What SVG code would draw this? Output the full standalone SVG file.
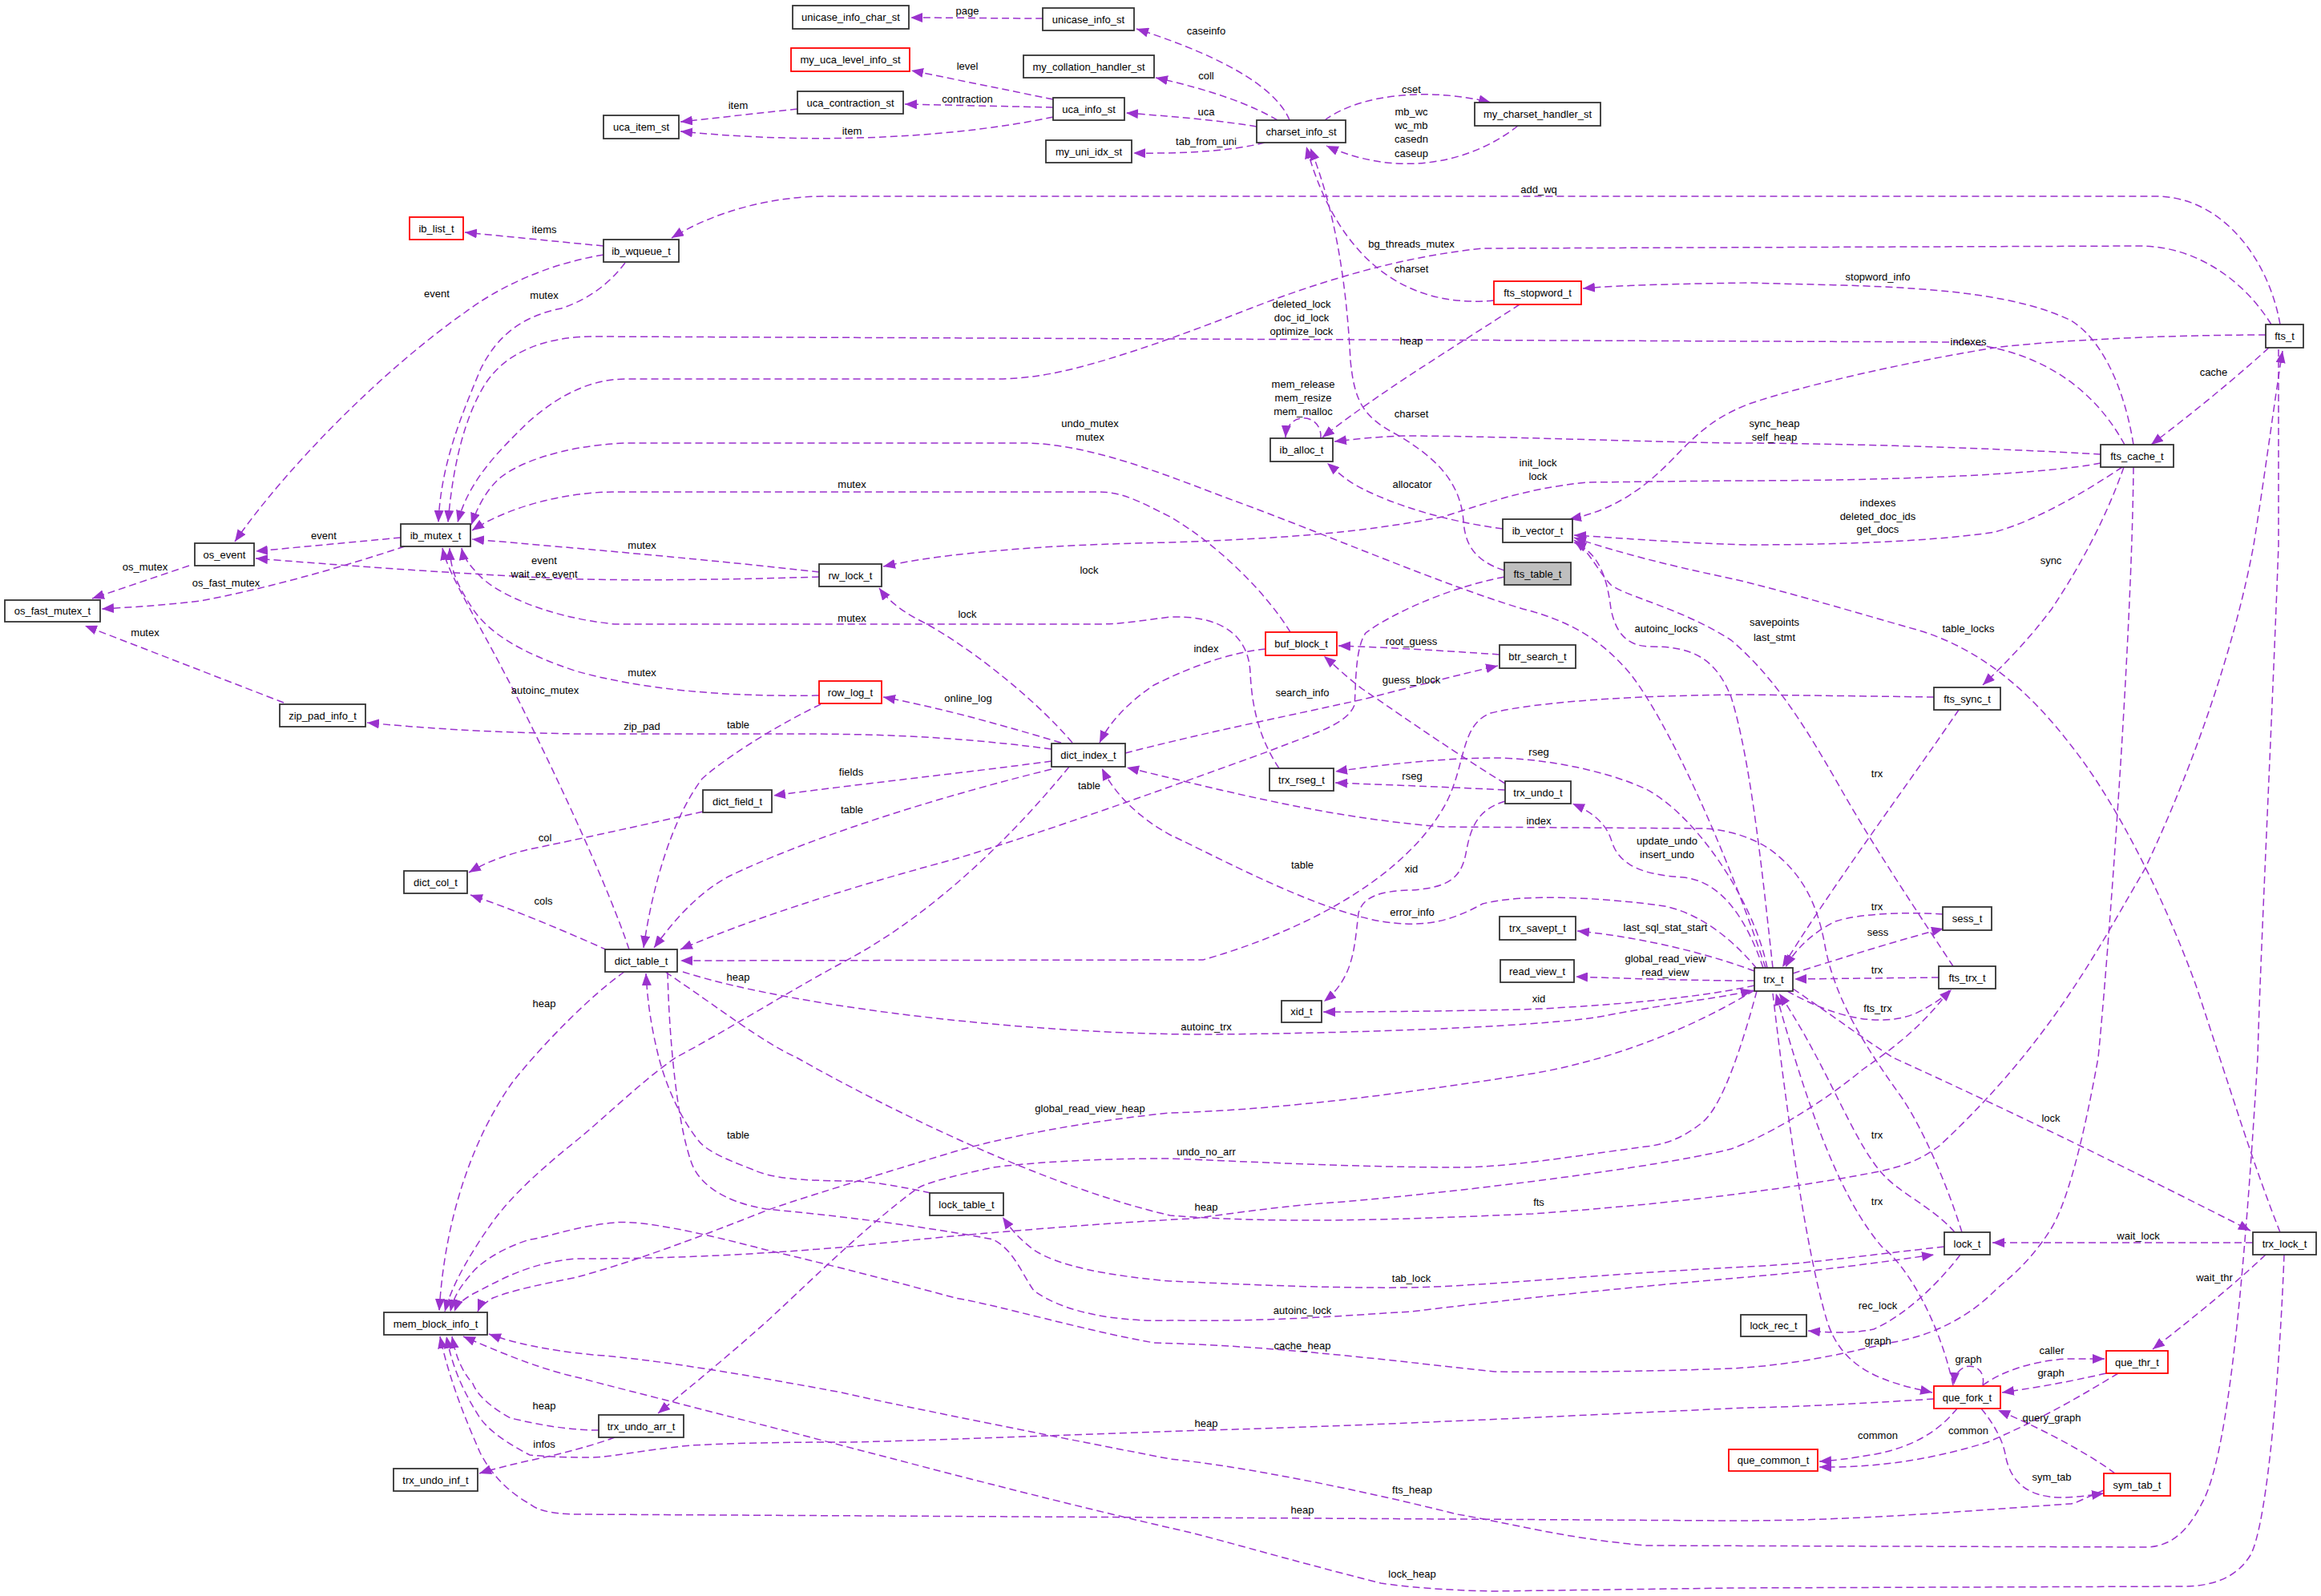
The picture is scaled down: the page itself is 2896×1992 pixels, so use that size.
<svg xmlns="http://www.w3.org/2000/svg" width="2896" height="1992" viewBox="0 0 2896 1992">
<style>
text{font-family:"Liberation Sans",Arial,sans-serif;font-size:13px;fill:#000}
.n rect{fill:#fff;stroke:#333;stroke-width:1.8}
.n.r rect{stroke:#ff0000}
.n.g rect{fill:#bfbfbf}
.n text{text-anchor:middle}
.e path{fill:none;stroke:#9a32cd;stroke-width:1.5;stroke-dasharray:9,5;marker-end:url(#a)}
.l text{text-anchor:middle}
</style>
<defs>
<marker id="a" markerUnits="userSpaceOnUse" markerWidth="16" markerHeight="12" refX="15" refY="6" orient="auto"><path d="M0,0 L15,6 L0,12 z" fill="#9a32cd"/></marker>
</defs>
<rect width="2896" height="1992" fill="#fff"/>
<g id="edges" class="e">
<path d="M1301,23 C1250,23 1190,22 1136,22"/>
<path d="M1609,150 C1595,115 1540,75 1418,36"/>
<path d="M1594,150 C1560,130 1510,112 1442,97"/>
<path d="M1568,158 C1520,150 1460,145 1405,141"/>
<path d="M1578,178 C1540,188 1480,192 1414,191"/>
<path d="M1314,124 L1137,88"/>
<path d="M1314,134 L1129,130"/>
<path d="M995,136 L849,152"/>
<path d="M1314,146 C1200,170 1030,182 849,164"/>
<path d="M1653,150 C1700,115 1790,110 1860,128"/>
<path d="M1894,157 C1840,200 1750,225 1655,182"/>
<path d="M1864,375 C1760,385 1670,330 1630,183"/>
<path d="M1877,712 C1840,700 1828,680 1826,650 C1822,600 1790,570 1742,542 C1700,520 1690,500 1685,450 C1680,350 1665,260 1635,185"/>
<path d="M753,307 L580,290"/>
<path d="M753,318 C680,330 620,360 580,390 C480,460 360,580 293,676"/>
<path d="M780,328 C765,348 740,372 700,385 C650,395 620,420 600,460 C575,520 550,580 547,652"/>
<path d="M2845,405 C2830,320 2770,245 2690,245 L1030,245 C960,245 890,265 838,297"/>
<path d="M2834,405 C2800,350 2740,307 2670,307 L1850,310 C1750,320 1650,350 1560,385 C1470,420 1400,445 1340,460 C1300,470 1270,473 1239,473 L781,473 C730,473 690,500 660,526 C620,565 585,600 571,652"/>
<path d="M2651,555 C2610,480 2540,435 2440,427 L740,420 C680,420 630,440 605,480 C580,520 565,580 559,652"/>
<path d="M2203,1208 C2150,1050 2080,900 2035,842 C2000,800 1960,775 1900,760 C1800,730 1650,665 1540,625 C1460,595 1360,553 1277,553 L781,553 C700,556 640,580 620,600 C605,615 595,635 588,655"/>
<path d="M1610,789 C1580,740 1520,680 1460,645 C1420,625 1400,614 1371,614 L767,614 C700,614 630,635 589,662"/>
<path d="M1022,714 C900,700 720,684 589,673"/>
<path d="M1022,720 C900,724 760,725 700,722 C550,715 420,705 319,697"/>
<path d="M1022,868 C900,870 800,860 720,838 C650,815 610,790 590,760 C570,730 562,710 561,684"/>
<path d="M1596,959 C1570,920 1562,880 1560,840 C1558,790 1520,768 1460,770 C1420,775 1400,779 1371,779 L767,779 C680,770 620,740 600,720 C585,705 578,695 576,684"/>
<path d="M785,1185 C760,1110 700,980 650,880 C600,780 560,720 552,684"/>
<path d="M500,671 L319,688"/>
<path d="M505,682 C420,710 330,735 250,750 C200,756 160,758 127,760"/>
<path d="M236,706 L115,747"/>
<path d="M354,877 L106,781"/>
<path d="M1312,935 C1200,920 1100,916 1000,916 L720,916 C600,914 520,908 458,902"/>
<path d="M1324,927 C1250,905 1180,885 1102,870"/>
<path d="M1338,927 C1290,870 1200,800 1145,773 C1120,760 1105,745 1097,734"/>
<path d="M1312,950 C1200,965 1060,980 965,993"/>
<path d="M877,1013 C800,1030 720,1048 660,1060 C620,1070 600,1080 585,1089"/>
<path d="M1312,960 C1150,1000 1000,1050 909,1094 C870,1115 840,1150 816,1183"/>
<path d="M1024,879 C960,910 900,950 876,972 C840,1020 815,1100 803,1183"/>
<path d="M758,1186 C700,1160 640,1135 587,1117"/>
<path d="M779,1213 C740,1240 680,1300 640,1350 C590,1420 555,1520 548,1636"/>
<path d="M2413,870 L2180,867 C2000,868 1900,880 1860,890 C1820,905 1830,960 1800,1010 C1740,1110 1600,1170 1501,1198 L849,1199"/>
<path d="M852,1213 C1000,1260 1300,1291 1500,1291 C1700,1290 1950,1280 2006,1267 C2100,1250 2150,1245 2187,1236"/>
<path d="M2189,1230 C2100,1250 1950,1258 1900,1260 C1800,1262 1720,1263 1651,1263"/>
<path d="M2189,1224 C2120,1224 2050,1222 1966,1219"/>
<path d="M2189,1212 C2130,1190 2050,1170 1968,1162"/>
<path d="M2192,1209 C2160,1170 2120,1140 2077,1131 C2000,1120 1900,1115 1850,1128 C1810,1150 1780,1156 1740,1152 C1660,1146 1520,1070 1460,1042 C1420,1020 1390,990 1375,959"/>
<path d="M2448,1538 C2430,1480 2400,1410 2373,1370 C2330,1310 2290,1250 2277,1180 C2268,1130 2250,1090 2207,1059 C2180,1042 2150,1035 2124,1034 L1800,1032 C1650,1020 1520,985 1406,958"/>
<path d="M1579,810 C1530,815 1480,835 1440,855 C1410,875 1385,900 1372,927"/>
<path d="M1404,940 C1500,915 1600,895 1700,873 C1760,858 1820,842 1869,831"/>
<path d="M1871,817 C1800,812 1730,808 1670,806"/>
<path d="M1878,978 C1800,930 1730,880 1700,860 C1680,845 1665,830 1652,819"/>
<path d="M1877,720 C1800,735 1730,770 1704,790 C1690,810 1692,860 1690,880 C1680,905 1640,915 1582,938 C1480,975 1300,1040 1192,1072 C1050,1110 930,1150 849,1185"/>
<path d="M1878,986 C1800,982 1740,980 1666,977"/>
<path d="M2205,1208 C2190,1130 2120,1020 2054,985 C2000,960 1920,946 1865,946 C1800,946 1720,955 1666,963"/>
<path d="M1878,1000 C1845,1010 1836,1030 1830,1060 C1825,1090 1815,1108 1760,1111 C1720,1112 1700,1120 1695,1140 C1690,1180 1690,1220 1652,1250"/>
<path d="M2200,1208 C2180,1150 2150,1100 2100,1095 C2050,1092 2020,1080 2011,1050 C2005,1030 1990,1015 1962,1003"/>
<path d="M2212,1208 C2200,1100 2185,950 2160,870 C2140,820 2110,807 2060,807 C2030,807 2016,790 2010,760 C2005,720 1995,690 1964,677"/>
<path d="M2437,1206 C2400,1150 2340,1060 2300,990 C2260,920 2220,850 2160,799 C2100,760 2030,745 2010,730 C1995,715 1985,690 1964,674"/>
<path d="M2845,1538 C2810,1450 2780,1350 2740,1230 C2700,1120 2640,1000 2583,929 C2530,860 2470,810 2395,787 C2300,760 2200,730 2150,720 C2080,705 2020,690 1964,671"/>
<path d="M2650,583 C2630,640 2600,700 2560,760 C2530,800 2500,830 2474,855"/>
<path d="M2444,886 C2380,980 2290,1100 2224,1207"/>
<path d="M2424,1141 C2380,1138 2320,1140 2290,1150 C2260,1165 2240,1185 2228,1207"/>
<path d="M2237,1215 C2300,1195 2380,1170 2425,1159"/>
<path d="M2419,1220 L2239,1222"/>
<path d="M2230,1237 C2280,1265 2340,1285 2390,1265 C2410,1255 2425,1245 2435,1235"/>
<path d="M2831,434 C2780,480 2730,520 2684,555"/>
<path d="M2827,418 C2700,418 2560,425 2489,434 C2400,448 2250,480 2180,505 C2130,525 2110,550 2080,580 C2040,620 2000,640 1958,648"/>
<path d="M2648,583 C2600,615 2540,650 2489,664 C2400,678 2250,680 2180,680 C2100,678 2030,672 1964,668"/>
<path d="M2621,567 C2500,560 2300,553 2160,553 C2000,550 1850,544 1751,544 C1720,545 1690,548 1665,551"/>
<path d="M2621,578 C2560,590 2400,600 2160,600 L1980,602 C1900,610 1850,630 1800,645 C1700,665 1600,672 1460,677 C1300,680 1180,690 1102,707"/>
<path d="M2662,555 C2650,480 2620,420 2582,399 C2520,370 2430,360 2300,356 L2180,353 C2100,354 2020,356 1975,360"/>
<path d="M1896,380 C1820,430 1720,490 1650,546"/>
<path d="M1648,547 C1650,515 1606,512 1604,546"/>
<path d="M1875,660 C1800,650 1740,630 1700,610 C1680,600 1670,590 1656,578"/>
<path d="M2237,1234 C2290,1270 2330,1300 2362,1320 C2450,1360 2600,1430 2808,1536"/>
<path d="M2439,1538 C2410,1505 2370,1490 2347,1463 C2310,1420 2280,1330 2220,1240"/>
<path d="M2437,1729 C2420,1650 2380,1580 2348,1556 C2300,1500 2260,1400 2216,1240"/>
<path d="M2212,1240 C2225,1350 2250,1550 2280,1650 C2300,1710 2350,1725 2411,1738"/>
<path d="M2850,1566 C2845,1700 2830,1900 2808,1941 C2790,1970 2760,1980 2723,1980 L2160,1982 L1865,1986 C1800,1985 1750,1980 1723,1976 C1600,1945 1500,1915 1460,1907 C1300,1870 1150,1830 1050,1804 C900,1765 800,1740 720,1719 C680,1710 640,1695 578,1668"/>
<path d="M2843,436 L2843,680 C2835,900 2820,1200 2817,1320 C2800,1600 2780,1820 2747,1877 C2730,1910 2710,1931 2676,1931 L2054,1929 C1950,1920 1880,1900 1818,1890 C1700,1860 1550,1830 1460,1821 C1300,1790 1100,1750 1050,1738 C900,1710 800,1695 740,1691 C680,1685 640,1676 610,1665"/>
<path d="M830,1213 C900,1260 950,1300 994,1320 C1100,1380 1300,1480 1460,1517 C1600,1528 1750,1522 1912,1515 C2050,1505 2200,1490 2340,1463 C2380,1455 2400,1445 2420,1430 C2560,1300 2620,1180 2676,1085 C2740,950 2790,800 2812,680 C2825,600 2838,500 2848,438"/>
<path d="M2189,1236 C2100,1290 2000,1325 1912,1340 C1750,1365 1600,1385 1460,1389 C1350,1400 1250,1420 1192,1437 C1100,1465 1000,1495 956,1511 C870,1545 790,1575 720,1594 C680,1602 640,1610 615,1620 C605,1626 598,1632 596,1637"/>
<path d="M2192,1237 C2175,1300 2150,1380 2124,1401 C2100,1420 2080,1428 2054,1431 C1950,1445 1880,1457 1818,1457 C1700,1457 1560,1450 1460,1446 C1350,1446 1280,1452 1239,1457 C1180,1470 1160,1475 1145,1483 C1080,1530 1000,1610 956,1650 C900,1700 850,1740 821,1764"/>
<path d="M2662,583 C2660,800 2630,1200 2618,1320 C2600,1420 2580,1500 2559,1534 C2530,1580 2500,1600 2489,1611 C2450,1650 2400,1670 2357,1676 C2280,1695 2220,1705 2160,1708 C2050,1712 1950,1713 1865,1712 C1750,1700 1600,1680 1440,1676 C1350,1660 1250,1630 1192,1620 C1100,1595 1000,1570 956,1560 C880,1540 800,1522 767,1526 C720,1530 680,1545 661,1547 C620,1560 595,1580 588,1590 C575,1605 566,1618 562,1637"/>
<path d="M2432,1236 C2400,1280 2360,1310 2324,1335 C2270,1380 2200,1420 2160,1434 C2100,1450 1900,1480 1676,1500 C1600,1505 1550,1513 1487,1521 C1400,1525 1200,1540 1060,1556 C950,1565 850,1571 720,1571 C660,1575 620,1600 590,1615 C578,1622 570,1628 567,1637"/>
<path d="M1334,957 C1250,1060 1150,1150 1050,1202 C980,1240 900,1290 843,1320 C800,1350 760,1390 720,1423 C680,1455 640,1490 614,1526 C590,1560 565,1600 555,1637"/>
<path d="M2625,1860 C2600,1870 2590,1877 2582,1877 C2400,1890 2300,1898 2160,1898 L1460,1894 L720,1890 C690,1890 670,1885 661,1877 C630,1860 610,1835 599,1813 C580,1770 560,1720 549,1668"/>
<path d="M2413,1746 C2350,1750 2250,1756 2180,1757 C2000,1765 1700,1780 1505,1785 C1300,1792 1100,1800 1050,1800 C950,1800 900,1802 862,1804 C800,1810 760,1819 740,1819 C700,1819 680,1818 661,1816 C630,1800 610,1785 599,1770 C580,1740 565,1710 557,1668"/>
<path d="M747,1785 C700,1785 660,1775 637,1770 C610,1755 595,1740 590,1727 C575,1710 568,1690 564,1668"/>
<path d="M767,1794 C740,1804 700,1815 660,1823 C630,1830 610,1835 598,1839"/>
<path d="M833,1213 C835,1300 845,1400 862,1449 C870,1475 900,1500 956,1509 C1050,1518 1150,1530 1239,1547 C1265,1560 1275,1590 1290,1611 C1330,1640 1400,1650 1460,1648 C1600,1650 1700,1640 1761,1637 C1900,1620 2050,1605 2180,1594 C2280,1585 2350,1575 2413,1566"/>
<path d="M1161,1489 C1110,1478 1080,1474 1060,1474 C1000,1474 960,1470 940,1460 C900,1445 880,1435 871,1423 C845,1390 830,1350 822,1320 C812,1280 808,1250 806,1215"/>
<path d="M2426,1556 C2300,1570 2250,1578 2180,1581 C2000,1590 1850,1605 1761,1607 C1650,1608 1550,1603 1460,1599 C1380,1592 1320,1580 1290,1560 C1270,1545 1260,1532 1251,1519"/>
<path d="M2446,1566 C2420,1600 2380,1640 2338,1659 C2310,1665 2280,1663 2256,1661"/>
<path d="M2811,1551 L2486,1551"/>
<path d="M2827,1566 C2780,1610 2730,1650 2686,1684"/>
<path d="M2474,1729 C2500,1710 2540,1698 2580,1696 L2626,1696"/>
<path d="M2628,1714 C2580,1725 2540,1732 2498,1738"/>
<path d="M2474,1729 C2480,1700 2440,1695 2438,1728"/>
<path d="M2442,1758 C2420,1785 2390,1805 2340,1815 C2310,1820 2290,1823 2270,1824"/>
<path d="M2643,1714 C2600,1740 2550,1770 2480,1800 C2400,1825 2330,1832 2270,1831"/>
<path d="M2639,1839 C2600,1810 2540,1780 2493,1760"/>
<path d="M2472,1758 C2490,1780 2500,1800 2503,1820 C2510,1850 2530,1869 2573,1869 C2590,1869 2610,1866 2625,1864"/>
</g>
<g id="labels" class="l">
<text x="1207" y="18">page</text>
<text x="1505" y="43">caseinfo</text>
<text x="1505" y="99">coll</text>
<text x="1207" y="87">level</text>
<text x="1207" y="128">contraction</text>
<text x="921" y="136">item</text>
<text x="1505" y="144">uca</text>
<text x="1761" y="116">cset</text>
<text x="1761" y="144">mb_wc</text>
<text x="1761" y="161">wc_mb</text>
<text x="1761" y="178">casedn</text>
<text x="1761" y="196">caseup</text>
<text x="1063" y="168">item</text>
<text x="1505" y="181">tab_from_uni</text>
<text x="1920" y="241">add_wq</text>
<text x="679" y="291">items</text>
<text x="1761" y="309">bg_threads_mutex</text>
<text x="1761" y="340">charset</text>
<text x="2343" y="350">stopword_info</text>
<text x="545" y="371">event</text>
<text x="679" y="373">mutex</text>
<text x="1624" y="384">deleted_lock</text>
<text x="1624" y="401">doc_id_lock</text>
<text x="1624" y="418">optimize_lock</text>
<text x="1761" y="430">heap</text>
<text x="2456" y="431">indexes</text>
<text x="2762" y="469">cache</text>
<text x="1626" y="484">mem_release</text>
<text x="1626" y="501">mem_resize</text>
<text x="1626" y="518">mem_malloc</text>
<text x="1761" y="521">charset</text>
<text x="1360" y="533">undo_mutex</text>
<text x="1360" y="550">mutex</text>
<text x="2214" y="533">sync_heap</text>
<text x="2214" y="550">self_heap</text>
<text x="1919" y="582">init_lock</text>
<text x="1919" y="599">lock</text>
<text x="1762" y="609">allocator</text>
<text x="1063" y="609">mutex</text>
<text x="2343" y="632">indexes</text>
<text x="2343" y="649">deleted_doc_ids</text>
<text x="2343" y="665">get_docs</text>
<text x="404" y="673">event</text>
<text x="801" y="685">mutex</text>
<text x="2559" y="704">sync</text>
<text x="679" y="704">event</text>
<text x="679" y="721">wait_ex_event</text>
<text x="181" y="712">os_mutex</text>
<text x="1359" y="716">lock</text>
<text x="282" y="732">os_fast_mutex</text>
<text x="1063" y="776">mutex</text>
<text x="1207" y="771">lock</text>
<text x="2214" y="781">savepoints</text>
<text x="2214" y="800">last_stmt</text>
<text x="2079" y="789">autoinc_locks</text>
<text x="2456" y="789">table_locks</text>
<text x="181" y="794">mutex</text>
<text x="1761" y="805">root_guess</text>
<text x="1505" y="814">index</text>
<text x="1761" y="853">guess_block</text>
<text x="801" y="844">mutex</text>
<text x="680" y="866">autoinc_mutex</text>
<text x="1625" y="869">search_info</text>
<text x="1208" y="876">online_log</text>
<text x="921" y="909">table</text>
<text x="801" y="911">zip_pad</text>
<text x="1920" y="943">rseg</text>
<text x="1062" y="968">fields</text>
<text x="2342" y="970">trx</text>
<text x="1762" y="973">rseg</text>
<text x="1359" y="985">table</text>
<text x="1063" y="1015">table</text>
<text x="1920" y="1029">index</text>
<text x="680" y="1050">col</text>
<text x="2080" y="1054">update_undo</text>
<text x="2080" y="1071">insert_undo</text>
<text x="1625" y="1084">table</text>
<text x="1761" y="1089">xid</text>
<text x="678" y="1129">cols</text>
<text x="2342" y="1136">trx</text>
<text x="1762" y="1143">error_info</text>
<text x="2078" y="1162">last_sql_stat_start</text>
<text x="2343" y="1168">sess</text>
<text x="2078" y="1201">global_read_view</text>
<text x="2078" y="1218">read_view</text>
<text x="2342" y="1215">trx</text>
<text x="921" y="1224">heap</text>
<text x="1920" y="1251">xid</text>
<text x="679" y="1257">heap</text>
<text x="2343" y="1263">fts_trx</text>
<text x="1505" y="1286">autoinc_trx</text>
<text x="1360" y="1388">global_read_view_heap</text>
<text x="2559" y="1400">lock</text>
<text x="2342" y="1421">trx</text>
<text x="921" y="1421">table</text>
<text x="1505" y="1442">undo_no_arr</text>
<text x="1920" y="1505">fts</text>
<text x="1505" y="1511">heap</text>
<text x="2342" y="1504">trx</text>
<text x="2668" y="1547">wait_lock</text>
<text x="1761" y="1600">tab_lock</text>
<text x="2763" y="1599">wait_thr</text>
<text x="2343" y="1634">rec_lock</text>
<text x="1625" y="1640">autoinc_lock</text>
<text x="2343" y="1678">graph</text>
<text x="1625" y="1684">cache_heap</text>
<text x="2560" y="1690">caller</text>
<text x="2456" y="1701">graph</text>
<text x="2559" y="1718">graph</text>
<text x="679" y="1759">heap</text>
<text x="2560" y="1774">query_graph</text>
<text x="1505" y="1781">heap</text>
<text x="2456" y="1790">common</text>
<text x="2343" y="1796">common</text>
<text x="679" y="1807">infos</text>
<text x="2560" y="1848">sym_tab</text>
<text x="1762" y="1864">fts_heap</text>
<text x="1625" y="1889">heap</text>
<text x="1762" y="1969">lock_heap</text>
</g>
<g id="unicase_info_char_st" class="n"><rect x="989" y="7" width="145" height="29"/><text x="1061.5" y="26">unicase_info_char_st</text></g>
<g id="unicase_info_st" class="n"><rect x="1301" y="10" width="114" height="28"/><text x="1358" y="29">unicase_info_st</text></g>
<g id="my_uca_level_info_st" class="n r"><rect x="987" y="60" width="148" height="29"/><text x="1061" y="79">my_uca_level_info_st</text></g>
<g id="my_collation_handler_st" class="n"><rect x="1277" y="69" width="163" height="28"/><text x="1358.5" y="88">my_collation_handler_st</text></g>
<g id="uca_contraction_st" class="n"><rect x="995" y="114" width="132" height="28"/><text x="1061" y="133">uca_contraction_st</text></g>
<g id="uca_info_st" class="n"><rect x="1314" y="122" width="89" height="28"/><text x="1358.5" y="141">uca_info_st</text></g>
<g id="uca_item_st" class="n"><rect x="753" y="144" width="94" height="29"/><text x="800" y="163">uca_item_st</text></g>
<g id="my_uni_idx_st" class="n"><rect x="1305" y="175" width="107" height="28"/><text x="1358.5" y="194">my_uni_idx_st</text></g>
<g id="charset_info_st" class="n"><rect x="1568" y="150" width="111" height="28"/><text x="1623.5" y="169">charset_info_st</text></g>
<g id="my_charset_handler_st" class="n"><rect x="1840" y="128" width="157" height="29"/><text x="1918.5" y="147">my_charset_handler_st</text></g>
<g id="ib_list_t" class="n r"><rect x="511" y="271" width="67" height="28"/><text x="544.5" y="290">ib_list_t</text></g>
<g id="ib_wqueue_t" class="n"><rect x="753" y="299" width="94" height="28"/><text x="800" y="318">ib_wqueue_t</text></g>
<g id="fts_stopword_t" class="n r"><rect x="1864" y="351" width="109" height="29"/><text x="1918.5" y="370">fts_stopword_t</text></g>
<g id="fts_t" class="n"><rect x="2827" y="405" width="47" height="29"/><text x="2850.5" y="424">fts_t</text></g>
<g id="ib_alloc_t" class="n"><rect x="1585" y="547" width="78" height="29"/><text x="1624" y="566">ib_alloc_t</text></g>
<g id="fts_cache_t" class="n"><rect x="2621" y="555" width="91" height="28"/><text x="2666.5" y="574">fts_cache_t</text></g>
<g id="ib_mutex_t" class="n"><rect x="500" y="654" width="87" height="28"/><text x="543.5" y="673">ib_mutex_t</text></g>
<g id="os_event" class="n"><rect x="243" y="678" width="74" height="28"/><text x="280" y="697">os_event</text></g>
<g id="ib_vector_t" class="n"><rect x="1875" y="648" width="87" height="29"/><text x="1918.5" y="667">ib_vector_t</text></g>
<g id="rw_lock_t" class="n"><rect x="1022" y="704" width="78" height="28"/><text x="1061" y="723">rw_lock_t</text></g>
<g id="fts_table_t" class="n g"><rect x="1877" y="702" width="83" height="28"/><text x="1918.5" y="721">fts_table_t</text></g>
<g id="os_fast_mutex_t" class="n"><rect x="6" y="749" width="119" height="27"/><text x="65.5" y="767">os_fast_mutex_t</text></g>
<g id="buf_block_t" class="n r"><rect x="1579" y="789" width="89" height="29"/><text x="1623.5" y="808">buf_block_t</text></g>
<g id="btr_search_t" class="n"><rect x="1871" y="805" width="95" height="29"/><text x="1918.5" y="824">btr_search_t</text></g>
<g id="zip_pad_info_t" class="n"><rect x="349" y="879" width="107" height="28"/><text x="402.5" y="898">zip_pad_info_t</text></g>
<g id="row_log_t" class="n r"><rect x="1022" y="850" width="78" height="28"/><text x="1061" y="869">row_log_t</text></g>
<g id="dict_index_t" class="n"><rect x="1312" y="928" width="92" height="29"/><text x="1358" y="947">dict_index_t</text></g>
<g id="fts_sync_t" class="n"><rect x="2413" y="858" width="83" height="28"/><text x="2454.5" y="877">fts_sync_t</text></g>
<g id="dict_field_t" class="n"><rect x="877" y="986" width="86" height="28"/><text x="920" y="1005">dict_field_t</text></g>
<g id="trx_rseg_t" class="n"><rect x="1584" y="959" width="80" height="28"/><text x="1624" y="978">trx_rseg_t</text></g>
<g id="trx_undo_t" class="n"><rect x="1878" y="975" width="82" height="28"/><text x="1919" y="994">trx_undo_t</text></g>
<g id="dict_col_t" class="n"><rect x="504" y="1087" width="79" height="28"/><text x="543.5" y="1106">dict_col_t</text></g>
<g id="dict_table_t" class="n"><rect x="755" y="1185" width="90" height="28"/><text x="800" y="1204">dict_table_t</text></g>
<g id="trx_savept_t" class="n"><rect x="1871" y="1144" width="95" height="29"/><text x="1918.5" y="1163">trx_savept_t</text></g>
<g id="sess_t" class="n"><rect x="2424" y="1132" width="61" height="29"/><text x="2454.5" y="1151">sess_t</text></g>
<g id="read_view_t" class="n"><rect x="1872" y="1198" width="92" height="28"/><text x="1918" y="1217">read_view_t</text></g>
<g id="trx_t" class="n"><rect x="2189" y="1208" width="48" height="29"/><text x="2213" y="1227">trx_t</text></g>
<g id="fts_trx_t" class="n"><rect x="2419" y="1206" width="71" height="28"/><text x="2454.5" y="1225">fts_trx_t</text></g>
<g id="xid_t" class="n"><rect x="1599" y="1249" width="50" height="27"/><text x="1624" y="1267">xid_t</text></g>
<g id="lock_table_t" class="n"><rect x="1160" y="1489" width="92" height="28"/><text x="1206" y="1508">lock_table_t</text></g>
<g id="lock_t" class="n"><rect x="2426" y="1538" width="57" height="28"/><text x="2454.5" y="1557">lock_t</text></g>
<g id="trx_lock_t" class="n"><rect x="2811" y="1538" width="79" height="28"/><text x="2850.5" y="1557">trx_lock_t</text></g>
<g id="mem_block_info_t" class="n"><rect x="479" y="1638" width="129" height="28"/><text x="543.5" y="1657">mem_block_info_t</text></g>
<g id="lock_rec_t" class="n"><rect x="2172" y="1641" width="82" height="27"/><text x="2213" y="1659">lock_rec_t</text></g>
<g id="que_thr_t" class="n r"><rect x="2628" y="1686" width="77" height="28"/><text x="2666.5" y="1705">que_thr_t</text></g>
<g id="que_fork_t" class="n r"><rect x="2413" y="1730" width="83" height="28"/><text x="2454.5" y="1749">que_fork_t</text></g>
<g id="trx_undo_arr_t" class="n"><rect x="747" y="1766" width="106" height="28"/><text x="800" y="1785">trx_undo_arr_t</text></g>
<g id="que_common_t" class="n r"><rect x="2157" y="1809" width="111" height="27"/><text x="2212.5" y="1827">que_common_t</text></g>
<g id="trx_undo_inf_t" class="n"><rect x="491" y="1833" width="105" height="28"/><text x="543.5" y="1852">trx_undo_inf_t</text></g>
<g id="sym_tab_t" class="n r"><rect x="2625" y="1839" width="83" height="28"/><text x="2666.5" y="1858">sym_tab_t</text></g>
</svg>
